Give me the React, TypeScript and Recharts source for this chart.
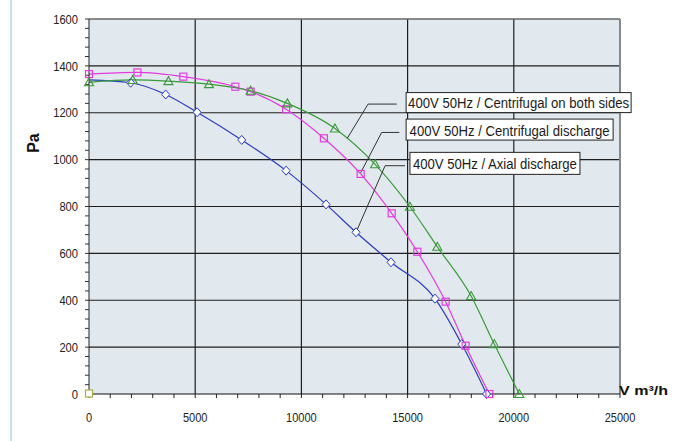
import {
    ComposedChart,
    Line,
    Scatter,
    XAxis,
    YAxis,
    CartesianGrid,
    ReferenceLine,
    ReferenceDot,
    Label,
} from "recharts";

const FONT = "'Liberation Sans', Arial, sans-serif";

const COLORS = {
    axial: "#2b3cc4", // blue
    centrifugal: "#e23be0", // magenta
    bothSides: "#3a9a3a", // green
    origin: "#a8b04a",
    grid: "#1e1e1e",
    plotBg: "#e2e9ee",
};

const axialFlow = [1960, 3610, 5090, 7190, 9280, 11160, 12570, 14220, 16290, 17550, 18720];
const axialPressure = [1328, 1278, 1202, 1084, 953, 809, 690, 562, 407, 213, 0];
const axialCurveStart = 1340; // blue trend line begins at V = 0

const centrifugalFlow = [0, 2280, 4440, 6890, 7610, 9280, 11060, 12790, 14250, 15460, 16790, 17730, 18850];
const centrifugalPressure = [1365, 1372, 1354, 1311, 1290, 1215, 1091, 939, 771, 607, 394, 206, 0];

const bothSidesFlow = [0, 2060, 3740, 5650, 7610, 9340, 11580, 13470, 15110, 16400, 17990, 19080, 20260];
const bothSidesPressure = [1330, 1340, 1335, 1322, 1294, 1240, 1133, 980, 799, 628, 418, 213, 0];

const originMarker = [{ x: 0, y: 0 }];

// axis ticks
const xLabelTicks = [0, 5000, 10000, 15000, 20000, 25000];
const yLabelTicks = [0, 200, 400, 600, 800, 1000, 1200, 1400, 1600];
const xMinorStep = 1000;
const yMinorStep = 40;
const xTicks = Array.from({ length: 25000 / xMinorStep + 1 }, (_, i) => i * xMinorStep);
const yTicks = Array.from({ length: 1600 / yMinorStep + 1 }, (_, i) => i * yMinorStep);

const toPoints = (xs: number[], ys: number[]) => xs.map((x, i) => ({ x, y: ys[i] }));

const axialPoints = toPoints(axialFlow, axialPressure);
const axialCurve = [{ x: 0, y: axialCurveStart }, ...axialPoints];
const centrifugalPoints = toPoints(centrifugalFlow, centrifugalPressure);
const bothSidesPoints = toPoints(bothSidesFlow, bothSidesPressure);

// callouts: box anchored (top-left) in data units, leader as polyline
const callouts = [
    {
        text: "400V 50Hz / Centrifugal on both sides",
        at: { x: 14930, y: 1286 },
        w: 225,
        h: 20,
        textW: 221,
        base: 15.8,
        leader: [
            { x: 14490, y: 1237 },
            { x: 13140, y: 1237 },
            { x: 12160, y: 1091 },
        ],
    },
    {
        text: "400V 50Hz / Centrifugal discharge",
        at: { x: 14930, y: 1173 },
        w: 207,
        h: 21,
        textW: 200,
        base: 16.6,
        leader: [
            { x: 14610, y: 1116 },
            { x: 13780, y: 1116 },
            { x: 12790, y: 944 },
        ],
    },
    {
        text: "400V 50Hz / Axial discharge",
        at: { x: 15110, y: 1031 },
        w: 170,
        h: 22,
        textW: 164,
        base: 16.8,
        leader: [
            { x: 14880, y: 974 },
            { x: 13940, y: 974 },
            { x: 12620, y: 700 },
        ],
    },
];

// Markers
const Diamond = ({ cx, cy }: any) => (
    <path
        d={`M${cx},${cy - 4.5} L${cx + 4},${cy} L${cx},${cy + 4.5} L${cx - 4},${cy} Z`}
        fill="#fff"
        stroke={COLORS.axial}
        strokeWidth={1}
    />
);

const Square = ({ cx, cy }: any) => (
    <rect x={cx - 3.5} y={cy - 3.5} width={7} height={7} fill="none" stroke={COLORS.centrifugal} strokeWidth={1.2} />
);

const Triangle = ({ cx, cy }: any) => (
    <path
        d={`M${cx},${cy - 4.5} L${cx + 4.5},${cy + 3.5} L${cx - 4.5},${cy + 3.5} Z`}
        fill="none"
        stroke={COLORS.bothSides}
        strokeWidth={1.1}
    />
);

const OriginSquare = ({ cx, cy }: any) => (
    <rect x={cx - 3.5} y={cy - 4} width={7} height={7} fill="#fff" stroke={COLORS.origin} strokeWidth={1.2} />
);

// Custom ticks: label only on the major ticks
const YTick = ({ x, y, payload }: any) => {
    const v = payload.value;
    if (!yLabelTicks.includes(v)) return <g />;
    const s = String(v);
    return (
        <text
            x={x}
            y={y}
            dy="0.36em"
            textAnchor="end"
            fontSize={13}
            fontFamily={FONT}
            fill="#222"
            textLength={s.length * 6.2}
            lengthAdjust="spacingAndGlyphs"
        >
            {s}
        </text>
    );
};

const XTick = ({ x, y, payload }: any) => {
    const v = payload.value;
    if (!xLabelTicks.includes(v)) return <g />;
    const s = String(v);
    return (
        <text
            x={x}
            y={y}
            dy="1em"
            textAnchor="middle"
            fontSize={13}
            fontFamily={FONT}
            fill="#222"
            textLength={s.length * 6.15}
            lengthAdjust="spacingAndGlyphs"
        >
            {s}
        </text>
    );
};

const CalloutBox = (props: any) => {
    const { cx, cy, c } = props;
    return (
        <g>
            <rect x={cx} y={cy} width={c.w} height={c.h} fill="#fff" stroke="#222" strokeWidth={1} />
            <text
                x={cx + (c.w - c.textW) / 2}
                y={cy + c.base}
                fontSize={14}
                fontFamily={FONT}
                fill="#1a1a1a"
                textLength={c.textW}
                lengthAdjust="spacingAndGlyphs"
            >
                {c.text}
            </text>
        </g>
    );
};

const PaTitle = ({ viewBox }: any) => {
    const cx = viewBox.x + 4;
    const cy = viewBox.y + 124;
    return (
        <text
            x={cx}
            y={cy}
            transform={`rotate(-90 ${cx} ${cy})`}
            textAnchor="middle"
            dy="0.36em"
            fontSize={16}
            fontWeight="bold"
            fontFamily={FONT}
            fill="#111"
        >
            Pa
        </text>
    );
};

const FlowTitle = ({ viewBox }: any) => (
    <text
        x={viewBox.x + viewBox.width - 1}
        y={viewBox.y + 1}
        fontSize={13}
        fontWeight="bold"
        fontFamily={FONT}
        fill="#111"
        textLength={49}
        lengthAdjust="spacingAndGlyphs"
    >
        V m³/h
    </text>
);

export default function App() {
    return (
        <div style={{ position: "absolute", left: 0, top: 0, width: 682, height: 441, background: "#fff" }}>
            <div
                style={{
                    position: "absolute",
                    left: 10,
                    top: 0,
                    width: 2,
                    height: 441,
                    background: "#c4def0",
                }}
            />
            <ComposedChart
                width={682}
                height={441}
                margin={{ top: 19, right: 62, left: 29, bottom: 17 }}
            >
                <CartesianGrid
                    fill={COLORS.plotBg}
                    stroke={COLORS.grid}
                    strokeWidth={1.2}
                    horizontalValues={[200, 400, 600, 800, 1000, 1200, 1400]}
                    verticalValues={[5000, 10000, 15000, 20000]}
                />
                <XAxis
                    type="number"
                    dataKey="x"
                    domain={[0, 25000]}
                    ticks={xTicks}
                    interval={0}
                    tickSize={4}
                    tickMargin={11}
                    height={30}
                    tick={<XTick />}
                    axisLine={{ stroke: "#111" }}
                    tickLine={{ stroke: "#222" }}
                >
                    <Label content={<FlowTitle />} />
                </XAxis>
                <YAxis
                    type="number"
                    dataKey="y"
                    domain={[0, 1600]}
                    ticks={yTicks}
                    interval={0}
                    tickSize={4}
                    tickMargin={7}
                    width={60}
                    tick={<YTick />}
                    axisLine={{ stroke: "#222" }}
                    tickLine={{ stroke: "#333" }}
                >
                    <Label content={<PaTitle />} />
                </YAxis>

                <ReferenceLine y={1600} stroke="#666" strokeWidth={1.5} />
                <ReferenceLine x={25000} stroke="#888" strokeWidth={2} />

                <Line
                    data={axialCurve}
                    dataKey="y"
                    type="monotone"
                    stroke={COLORS.axial}
                    strokeWidth={1.2}
                    dot={false}
                    activeDot={false}
                    isAnimationActive={false}
                />
                <Line
                    data={centrifugalPoints}
                    dataKey="y"
                    type="monotone"
                    stroke={COLORS.centrifugal}
                    strokeWidth={1.2}
                    dot={false}
                    activeDot={false}
                    isAnimationActive={false}
                />
                <Line
                    data={bothSidesPoints}
                    dataKey="y"
                    type="monotone"
                    stroke={COLORS.bothSides}
                    strokeWidth={1.2}
                    dot={false}
                    activeDot={false}
                    isAnimationActive={false}
                />

                <Scatter data={axialPoints} dataKey="y" shape={<Diamond />} isAnimationActive={false} />
                <Scatter data={centrifugalPoints} dataKey="y" shape={<Square />} isAnimationActive={false} />
                <Scatter data={bothSidesPoints} dataKey="y" shape={<Triangle />} isAnimationActive={false} />
                <Scatter data={originMarker} dataKey="y" shape={<OriginSquare />} isAnimationActive={false} />

                {callouts.map((c, i) =>
                    c.leader.slice(1).map((p, j) => (
                        <ReferenceLine
                            key={`leader-${i}-${j}`}
                            segment={[c.leader[j], p]}
                            stroke="#333"
                            strokeWidth={1}
                            ifOverflow="visible"
                        />
                    ))
                )}
                {callouts.map((c, i) => (
                    <ReferenceDot
                        key={`box-${i}`}
                        x={c.at.x}
                        y={c.at.y}
                        r={0}
                        ifOverflow="visible"
                        shape={(p: any) => <CalloutBox {...p} c={c} />}
                    />
                ))}
            </ComposedChart>
        </div>
    );
}
